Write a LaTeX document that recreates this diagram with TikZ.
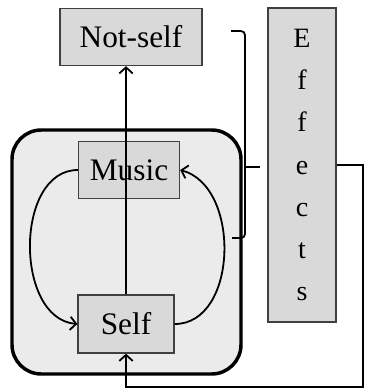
\documentclass[tikz,border=0pt]{standalone}
\usepackage{fontspec}
\setmainfont{Liberation Serif}
\usetikzlibrary{arrows.meta}

\tikzset{
    caja/.style={draw=black!75,line width=1pt,fill=black!15,inner sep=0pt},
    flecha/.style={line width=1.35pt,-{Straight Barb[length=4.5pt,width=10pt,line width=1.35pt]}},
}

\begin{document}
\begin{tikzpicture}[x=0.75pt,y=-0.75pt]

    \def\letra{\fontsize{23.5}{28}\selectfont}%Texto cajas
    \def\letrab{\fontsize{21}{31.6}\selectfont}%Texto columna

    \useasboundingbox (0,0) rectangle (366,390);

    %Contenedor
    \draw[line width=2.6pt,fill=black!8,rounded corners=22pt] (12,130) rectangle (241,374);

    %Cajas
    \node[caja,minimum width=106.5pt,minimum height=42.75pt,font=\letra] (notself) at (131,37) {Not-self};
    \node[caja,minimum width=75.75pt,minimum height=42.75pt,font=\letra] (music) at (129,170) {Music};
    \node[caja,minimum width=72pt,minimum height=43.5pt,font=\letra] (self) at (126,324) {Self};
    \node[caja,minimum width=51pt,minimum height=235.5pt,font=\letrab,align=center] (effects) at (302,165) {E\\f\\f\\e\\c\\t\\s};

    %Llave
    \coordinate (llavea) at (231,31);
    \coordinate (llaveb) at (245,238);
    \coordinate (llavec) at (260,167);
    \draw[line width=1.35pt,rounded corners=3pt] (llavea) -- (llavea -| llaveb) -- (llaveb) -- ++(-13,0);
    \draw[line width=1.35pt] (llaveb |- llavec) -- (llavec);

    %Flechas
    \draw[flecha] (self.north) -- (self.north |- notself.south);
    \draw[flecha] (music.west) to[out=180,in=175,looseness=1.05] (self.west);
    \draw[flecha] (self.east) to[out=0,in=-15,looseness=1.05] (music.east);

    %Retorno
    \coordinate (esquina) at (363,387);
    \draw[line width=1pt,-{Straight Barb[length=4.5pt,width=10pt,line width=1.35pt]}] (effects.east) -| (esquina) -| (self.south);
\end{tikzpicture}
\end{document}
